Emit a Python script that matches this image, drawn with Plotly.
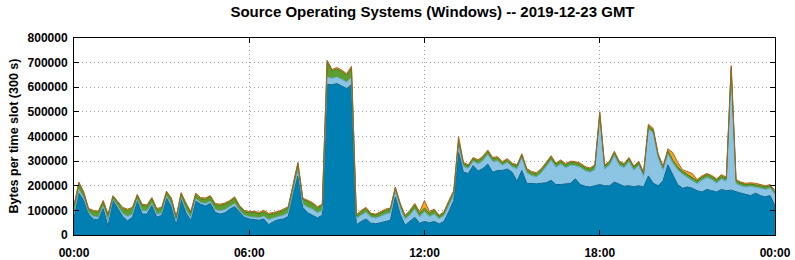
import pandas as pd
import plotly.graph_objects as go

# 10-minute sample points, 2019-12-23 00:00 .. 2019-12-24 00:00 (values in kB per 300 s slot)
times = pd.date_range("2019-12-23 00:00", periods=145, freq="10min")

dark_blue = [68,170,140,85,64,62,108,35,140,105, 75,58,72,138,85,85,120,72,80,150,
             115,42,145,90,58,138,125,118,128,92, 85,90,105,115,92,72,65,62,60,65,
             42,55,62,65,75,170,240,112,90,80, 70,80,612,610,615,605,595,610,42,55,
             65,48,46,50,55,60,155,85,40,55, 72,48,55,50,55,45,55,95,140,335,
             255,250,282,260,270,288,255,262,262,268, 255,218,262,210,208,208,210,212,222,205,
             205,208,210,228,205,198,195,200,205,200, 200,215,205,198,200,196,200,195,240,210,
             200,220,285,245,205,190,195,190,180,175, 185,180,175,185,180,182,175,170,165,160,
             170,160,155,160,118]

light_blue = [19,15,10,6,11,10,9,23,6,9, 12,17,13,7,13,12,9,11,9,8,
              11,12,7,13,12,9,7,9,9,11, 13,13,11,13,8,8,9,11,10,11,
              20,14,12,15,15,12,24,13,23,25, 20,20,30,26,27,27,26,30,24,26,
              27,24,23,26,30,30,23,26,24,26, 33,25,40,24,30,21,23,25,22,33,
              23,20,18,28,32,39,43,39,21,27, 22,50,51,43,33,28,43,65,82,70,
              83,65,73,53,70,63,60,65,278,68, 83,108,78,75,98,67,83,43,191,203,
              113,43,45,47,60,57,40,33,28,48, 48,45,36,42,38,486,33,30,30,37,
              25,30,30,30,47]

green = [28,25,20,12,20,20,18,22,10,16, 20,25,22,15,22,20,18,20,18,15,
         19,16,15,22,20,18,15,18,18,20, 22,22,19,22,15,15,16,18,17,18,
         20,18,17,20,20,18,25,20,22,22, 20,20,60,30,32,32,28,38,12,14,
         15,12,12,14,15,15,12,14,12,14, 16,14,15,14,15,10,12,12,12,15,
         12,10,10,12,12,12,12,12,10,10, 10,12,12,12,12,12,12,12,12,12,
         12,12,12,12,12,12,12,15,10,12, 12,12,12,12,12,12,12,12,12,12,
         12,12,12,12,12,12,12,12,12,12, 12,12,12,12,12,12,12,10,10,10,
         10,10,10,10,10]

orange = [5,5,5,5,5,5,5,5,4,5, 5,5,5,5,5,5,5,5,5,5,
          5,5,5,5,5,5,5,5,5,5, 5,5,5,5,5,5,5,5,5,6,
          6,5,5,5,5,5,6,5,5,5, 5,5,8,6,6,6,6,7,4,5,
          5,4,4,5,5,5,5,5,4,5, 7,8,30,7,5,4,5,8,6,17,
          5,5,5,5,6,6,5,5,5,5, 5,5,5,5,5,5,5,6,6,5,
          5,5,5,5,5,5,5,5,7,5, 5,5,5,5,5,5,5,5,7,7,
          5,5,8,31,18,6,11,15,5,5, 5,5,5,6,5,8,5,5,5,5,
          5,5,5,5,5]

series = [
    ("Windows 10", dark_blue, "#0080B2", "#0a6690"),
    ("Windows 7", light_blue, "#8cc4e4", "#6aa8cc"),
    ("Windows 8.1", green, "#5c9e30", "#3f7a1c"),
    ("Windows other", orange, "#f5a623", "#a8641c"),
]

fig = go.Figure()
for name, vals, fillc, linec in series:
    fig.add_trace(go.Scatter(
        x=times, y=[v * 1000 for v in vals], name=name, mode="lines",
        stackgroup="one", fillcolor=fillc,
        line=dict(color=linec, width=1),
    ))

FAM = "Liberation Sans, Arial, sans-serif"
font_b = dict(family=FAM, size=12, color="black", weight="bold")

L, R, T, B = 74, 20, 38, 25
pw = 795 - L - R

fig.update_layout(
    width=795, height=260,
    margin=dict(l=L, r=R, t=T, b=B),
    paper_bgcolor="white", plot_bgcolor="white",
    showlegend=False,
    title=dict(text="Source Operating Systems (Windows) -- 2019-12-23 GMT",
               x=0.544, xanchor="center", y=0.955, yanchor="middle",
               font=dict(family=FAM, size=15, color="black", weight="bold")),
    annotations=[dict(
        text="Bytes per time slot (300 s)", textangle=-90,
        xref="paper", yref="paper", x=(13 - L) / pw, y=0.5,
        xanchor="center", yanchor="middle", showarrow=False,
        font=dict(family=FAM, size=12.5, color="black", weight="bold"),
    )],
)
grid = dict(showgrid=True, gridcolor="#a0a0a0", griddash="1px,3px", gridwidth=1)
fig.update_xaxes(
    range=["2019-12-23 00:00", "2019-12-24 00:00"],
    tickformat="%H:%M", dtick=6 * 3600 * 1000, tick0="2019-12-23 00:00",
    showline=True, linecolor="black", linewidth=1, mirror="ticks",
    ticks="inside", ticklen=5, tickcolor="black", ticklabelstandoff=7,
    tickfont=font_b, zeroline=False, automargin=False, **grid,
)
fig.update_yaxes(
    range=[0, 800000], dtick=100000, tickformat="d",
    showline=True, linecolor="black", linewidth=1, mirror="ticks",
    ticks="inside", ticklen=5, tickcolor="black", ticklabelstandoff=3,
    tickfont=font_b, zeroline=False, automargin=False, **grid,
)

fig.write_html("out.html")
